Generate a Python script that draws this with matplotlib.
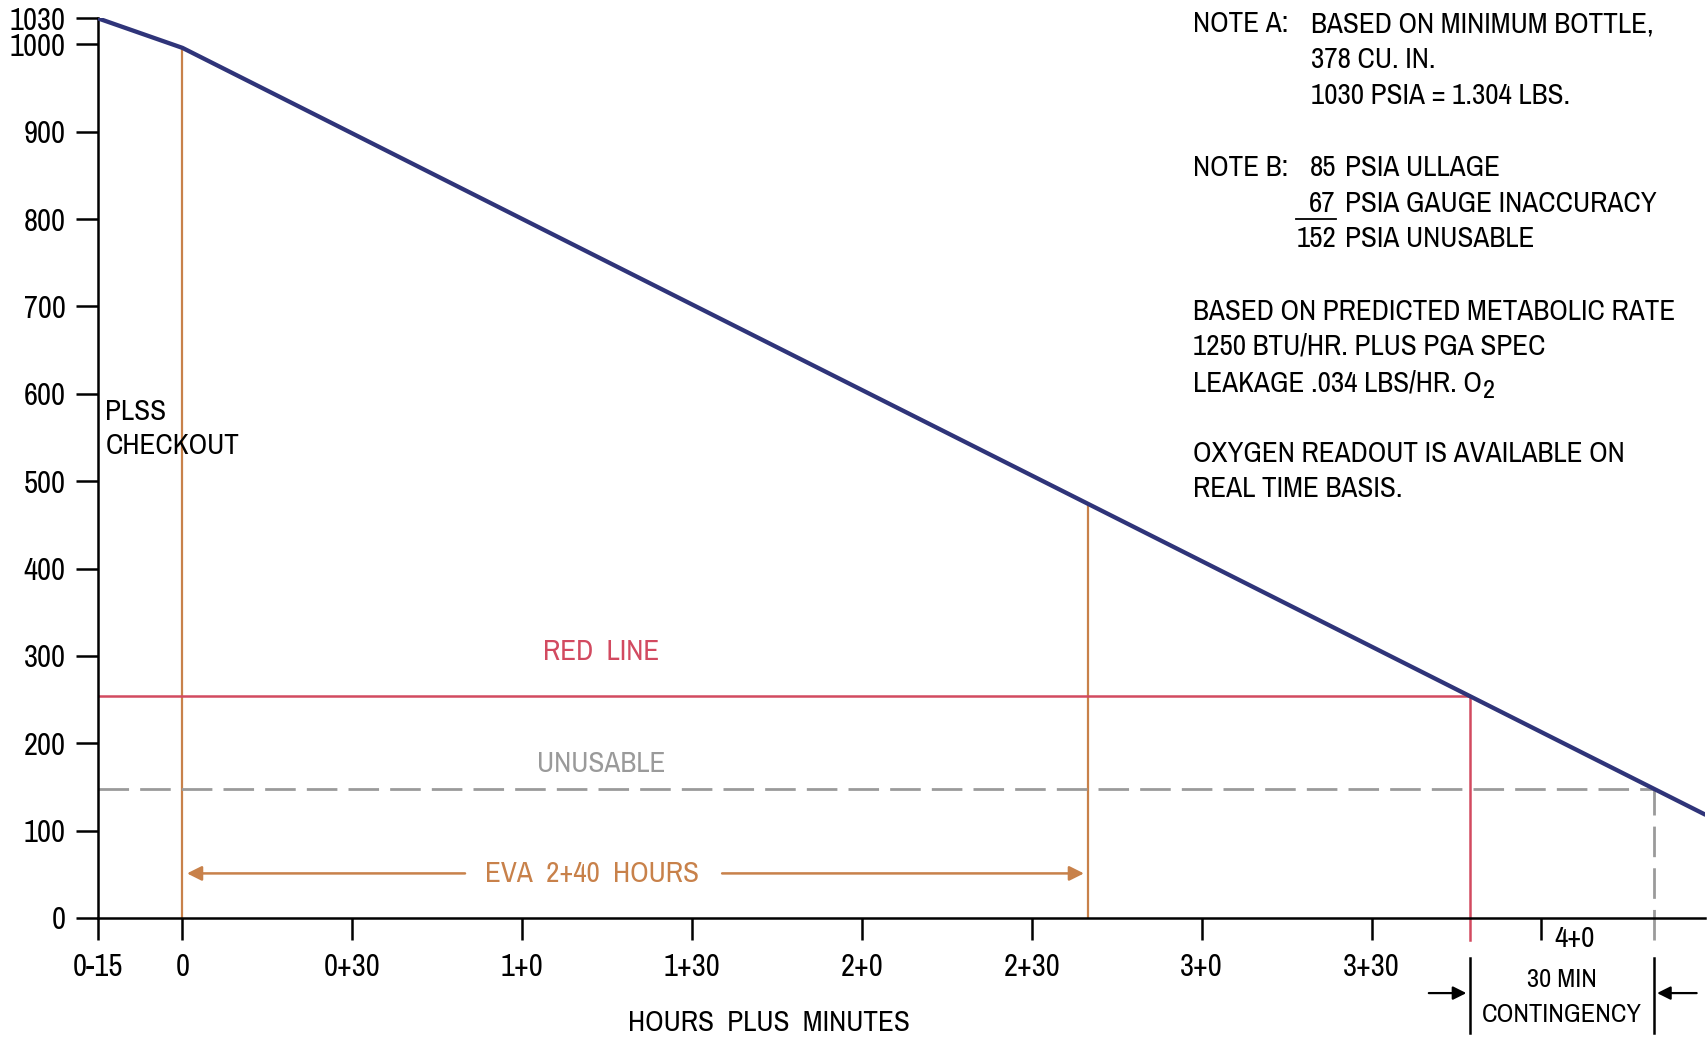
import numpy as np
import matplotlib
matplotlib.use("Agg")
import matplotlib.pyplot as plt
from matplotlib.lines import Line2D

plt.rcParams['font.family'] = ['Archivo Narrow', 'DejaVu Sans']
plt.rcParams['font.stretch'] = 'condensed'

# oxygen bottle pressure vs time (minutes from EVA start)
time_min = [-15, 0, 269]
pressure_psia = [1030, 996, 118]

red_line_psia = 254
unusable_psia = 148
eva_end_min = 160

x_ticks = [-15, 0, 30, 60, 90, 120, 150, 180, 210, 240]
x_labels = ['0-15', '0', '0+30', '1+0', '1+30', '2+0', '2+30', '3+0', '3+30', '']
y_ticks = [0, 100, 200, 300, 400, 500, 600, 700, 800, 900, 1000, 1030]

NAVY = '#2f3479'
ORANGE = '#c8814a'
RED = '#d24a60'
GRAY = '#9a9a9a'
FS = 21

fig = plt.figure(figsize=(17.08, 10.39), dpi=100)
ax = fig.add_axes([0.0571, 0.1165, 0.9409, 0.866])

# crossing times
red_min = np.interp(red_line_psia, pressure_psia[::-1], time_min[::-1])
unus_min = np.interp(unusable_psia, pressure_psia[::-1], time_min[::-1])
eva_top = np.interp(eva_end_min, time_min, pressure_psia)

ax.plot(time_min, pressure_psia, color=NAVY, lw=3.1, solid_capstyle='butt', zorder=5)

ax.plot([0, 0], [0, pressure_psia[1]], color=ORANGE, lw=1.6)
ax.plot([eva_end_min, eva_end_min], [0, eva_top], color=ORANGE, lw=1.6)

ax.plot([-15, red_min], [red_line_psia, red_line_psia], color=RED, lw=1.8)
ax.plot([red_min, red_min], [-25, red_line_psia], color=RED, lw=1.8, clip_on=False)

ax.plot([-15, unus_min], [unusable_psia, unusable_psia], color=GRAY, lw=2,
        dashes=(11, 4))
ax.plot([unus_min, unus_min], [-25, unusable_psia], color=GRAY, lw=2,
        dashes=(11, 4), clip_on=False)

ax.text(-13.6, 560, 'PLSS\nCHECKOUT', fontsize=FS, ha='left', va='center', linespacing=1.3)
ax.text(73.9, 305, 'RED  LINE', color=RED, fontsize=FS, ha='center', va='center')
ax.text(73.9, 177, 'UNUSABLE', color=GRAY, fontsize=FS, ha='center', va='center')
ax.text(72.4, 51, 'EVA  2+40  HOURS', color=ORANGE, fontsize=FS, ha='center', va='center')

arrow_kw = dict(arrowstyle='-|>', mutation_scale=22, lw=1.8, color=ORANGE, shrinkA=0, shrinkB=0)
ax.annotate('', xy=(0.8, 51), xytext=(49.9, 51), arrowprops=arrow_kw)
ax.annotate('', xy=(159.2, 51), xytext=(95.3, 51), arrowprops=arrow_kw)

# 30 min contingency bracket below the axis
for xv in [red_min, unus_min]:
    ax.plot([xv, xv], [-46, -132], color='black', lw=1.8, clip_on=False)
k_kw = dict(arrowstyle='-|>', mutation_scale=20, lw=1.6, color='black', shrinkA=0, shrinkB=0)
ax.annotate('', xy=(red_min - 0.6, -86), xytext=(220.1, -86), arrowprops=k_kw, annotation_clip=False)
ax.annotate('', xy=(unus_min + 0.6, -86), xytext=(267.4, -86), arrowprops=k_kw, annotation_clip=False)
ax.text((red_min + unus_min) / 2, -71, '30 MIN', fontsize=FS - 2, ha='center', va='center', clip_on=False)
ax.text((red_min + unus_min) / 2, -111, 'CONTINGENCY', fontsize=FS - 2, ha='center', va='center', clip_on=False)
ax.text(242.3, -24, '4+0', fontsize=FS, ha='left', va='center', clip_on=False)

ax.set_xlim(-15, 268.8)
ax.set_ylim(0, 1030)
ax.set_xticks(x_ticks)
ax.set_xticklabels(x_labels)
ax.set_yticks(y_ticks)
ax.tick_params(axis='both', labelsize=FS + 1, length=16, width=1.8, direction='out', pad=7)
ax.tick_params(axis='x', pad=9)
for side in ['top', 'right']:
    ax.spines[side].set_visible(False)
for side in ['left', 'bottom']:
    ax.spines[side].set_linewidth(1.8)

fig.text(0.45, 0.016, 'HOURS  PLUS  MINUTES', fontsize=FS, ha='center', va='center')

# notes in the upper right
W, H = 1708, 1039
def ftext(px, py, s, **kw):
    return fig.text(px / W, 1 - py / H, s, fontsize=FS, va='center', **kw)

ftext(1193, 24, 'NOTE A:')
ftext(1311, 24, 'BASED ON MINIMUM BOTTLE,')
ftext(1311, 60, '378 CU. IN.')
ftext(1311, 96, '1030 PSIA = 1.304 LBS.')
ftext(1193, 167, 'NOTE B:')
ftext(1336, 167, '85', ha='right')
ftext(1345, 167, 'PSIA ULLAGE')
ftext(1336, 203, '67', ha='right')
ftext(1345, 203, 'PSIA GAUGE INACCURACY')
ftext(1336, 239, '152', ha='right')
ftext(1345, 239, 'PSIA UNUSABLE')
fig.add_artist(Line2D([1296 / W, 1336 / W], [1 - 219 / H, 1 - 219 / H], color='black', lw=1.3))
ftext(1193, 311, 'BASED ON PREDICTED METABOLIC RATE')
ftext(1193, 346, '1250 BTU/HR. PLUS PGA SPEC')
leak = ftext(1193, 383, 'LEAKAGE .034 LBS/HR. O')
# subscript 2 of O2, sitting just after the O
ax.annotate('2', xy=(1.0, 0.5), xycoords=leak, xytext=(1, -8), textcoords='offset pixels',
            fontsize=FS - 2, ha='left', va='center', annotation_clip=False)
ftext(1193, 453, 'OXYGEN READOUT IS AVAILABLE ON')
ftext(1193, 489, 'REAL TIME BASIS.')

fig.savefig('out.png', dpi=100)
